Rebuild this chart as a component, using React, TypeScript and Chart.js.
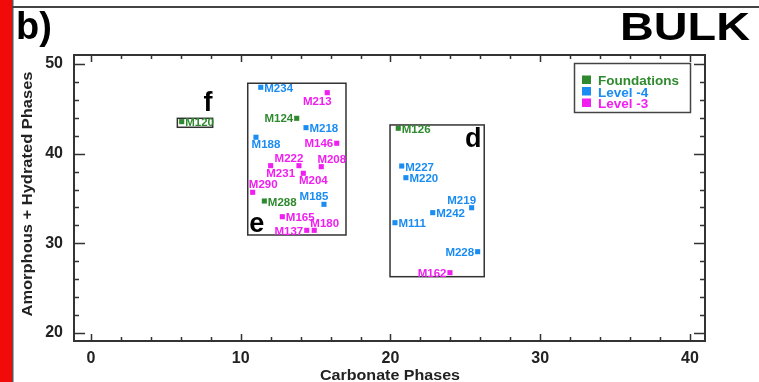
import React, { useEffect, useRef } from 'react';
import { Chart, registerables } from 'chart.js';

Chart.register(...registerables);

// ---------- data ----------
const seriesLabels = ['Foundations', 'Level -4', 'Level -3'];
const seriesColors = ['#2f8a2f', '#1a8cf2', '#f01ef0'];

const foundationNames = ['M120', 'M124', 'M288', 'M126'];
const foundationX = [6.06, 13.74, 11.58, 20.52];
const foundationY = [43.57, 43.94, 34.72, 42.83];

const level4Names = ['M234', 'M218', 'M188', 'M185', 'M227', 'M220', 'M219', 'M242', 'M111', 'M228'];
const level4X = [11.34, 14.36, 11.02, 15.56, 20.75, 21.03, 25.42, 22.82, 20.3, 25.82];
const level4Y = [47.4, 42.9, 41.83, 34.35, 38.62, 37.32, 33.97, 33.42, 32.3, 29.07];

const level3Names = ['M213', 'M146', 'M222', 'M231', 'M208', 'M204', 'M290', 'M165', 'M137', 'M180', 'M162'];
const level3X = [15.78, 16.41, 13.89, 12.0, 15.38, 14.18, 10.8, 12.78, 14.41, 14.91, 23.97];
const level3Y = [46.8, 41.16, 38.66, 38.66, 38.55, 37.81, 35.69, 32.97, 31.45, 31.45, 26.73];

const xTicks = [0, 10, 20, 30, 40];
const yTicks = [20, 30, 40, 50];

// group boxes (data coordinates)
const groupNames = ['e', 'd', 'f'];
const groupXMin = [10.47, 19.97, 5.77];
const groupXMax = [17.03, 26.26, 8.13];
const groupYMin = [30.93, 26.28, 42.94];
const groupYMax = [47.85, 43.2, 43.94];
const groupLetterX = [11.07, 25.53, 7.82];
const groupLetterY = [32.05, 41.52, 45.6];

// label placement around each marker (r, l, ur, ul, dr, dl)
const labelPlacement: Record<string, string> = {
  M120: 'r', M234: 'r', M218: 'r', M288: 'r', M165: 'r', M126: 'r', M227: 'r', M220: 'r', M242: 'r', M111: 'r',
  M124: 'l', M146: 'l', M137: 'l', M228: 'l', M162: 'l',
  M222: 'ul', M185: 'ul', M219: 'ul',
  M208: 'ur', M290: 'ur', M180: 'ur',
  M188: 'dr', M231: 'dr', M204: 'dr',
  M213: 'dl',
};

const seriesNames = [foundationNames, level4Names, level3Names];
const FONT = '"Liberation Sans", Arial, Helvetica, sans-serif';

function fitText(ctx: CanvasRenderingContext2D, text: string, cx: number, cy: number, width: number, rot: number) {
  const w = ctx.measureText(text).width;
  ctx.save();
  ctx.translate(cx, cy);
  ctx.rotate(rot);
  ctx.scale(width / w, 1);
  ctx.textAlign = 'center';
  ctx.textBaseline = 'middle';
  ctx.fillText(text, 0, 0);
  ctx.restore();
}

const decorPlugin = {
  id: 'decor',
  beforeDraw(chart: any) {
    const ctx = chart.ctx as CanvasRenderingContext2D;
    ctx.save();
    ctx.fillStyle = '#ffffff';
    ctx.fillRect(0, 0, chart.width, chart.height);
    ctx.fillStyle = '#f00a0a';
    ctx.fillRect(0, 0, 12, chart.height);
    ctx.fillStyle = '#555';
    ctx.fillRect(12, 0, 1.5, chart.height);
    ctx.fillStyle = '#444';
    ctx.fillRect(12, 6, chart.width - 12, 2);
    ctx.restore();
  },
  afterDatasetsDraw(chart: any) {
    const ctx = chart.ctx as CanvasRenderingContext2D;
    const xs = chart.scales.x;
    const ys = chart.scales.y;
    const a = chart.chartArea;
    ctx.save();

    // frame
    ctx.strokeStyle = '#333';
    ctx.lineWidth = 2;
    ctx.strokeRect(a.left, a.top, a.right - a.left, a.bottom - a.top);

    // ticks (inward)
    ctx.lineWidth = 1.5;
    ctx.beginPath();
    for (let v = xTicks[0]; v <= xTicks[xTicks.length - 1]; v += 2) {
      const px = Math.round(xs.getPixelForValue(v)) + 0.5;
      const len = v % 10 === 0 ? 7 : 4;
      ctx.moveTo(px, a.bottom);
      ctx.lineTo(px, a.bottom - len);
      ctx.moveTo(px, a.top);
      ctx.lineTo(px, a.top + len);
    }
    for (let v = yTicks[0]; v <= yTicks[yTicks.length - 1]; v += 2) {
      const py = Math.round(ys.getPixelForValue(v)) + 0.5;
      const len = v % 10 === 0 ? 11 : 5;
      ctx.moveTo(a.left, py);
      ctx.lineTo(a.left + len, py);
      ctx.moveTo(a.right, py);
      ctx.lineTo(a.right - len, py);
    }
    ctx.stroke();

    // group boxes
    ctx.strokeStyle = '#333';
    ctx.lineWidth = 1.5;
    for (let i = 0; i < groupNames.length; i++) {
      const x1 = xs.getPixelForValue(groupXMin[i]);
      const x2 = xs.getPixelForValue(groupXMax[i]);
      const y1 = ys.getPixelForValue(groupYMax[i]);
      const y2 = ys.getPixelForValue(groupYMin[i]);
      ctx.strokeRect(x1, y1, x2 - x1, y2 - y1);
      ctx.fillStyle = '#000';
      ctx.font = `700 27px ${FONT}`;
      ctx.textAlign = 'center';
      ctx.textBaseline = 'middle';
      ctx.fillText(groupNames[i], xs.getPixelForValue(groupLetterX[i]), ys.getPixelForValue(groupLetterY[i]));
    }

    // point labels
    ctx.font = `700 11.5px ${FONT}`;
    ctx.textBaseline = 'middle';
    chart.data.datasets.forEach((ds: any, i: number) => {
      const meta = chart.getDatasetMeta(i);
      ctx.fillStyle = seriesColors[i];
      meta.data.forEach((pt: any, j: number) => {
        const name = seriesNames[i][j];
        const p = labelPlacement[name] || 'r';
        let tx = pt.x, ty = pt.y;
        let align: CanvasTextAlign = 'center';
        if (p === 'r') { align = 'left'; tx += 3.5; ty += 1.5; }
        else if (p === 'l') { align = 'right'; tx -= 3.5; ty += 1; }
        else if (p === 'ur') { tx += 10.5; ty -= 7; }
        else if (p === 'ul') { tx -= 10; ty -= 7; }
        else if (p === 'dr') { tx += 10; ty += 8; }
        else if (p === 'dl') { tx -= 10; ty += 9; }
        ctx.textAlign = align;
        ctx.fillText(name, tx, ty);
      });
    });

    // legend
    ctx.strokeStyle = '#444';
    ctx.lineWidth = 1.5;
    ctx.strokeRect(574.5, 63.5, 116, 49);
    ctx.font = `700 13.5px ${FONT}`;
    ctx.textAlign = 'left';
    ctx.textBaseline = 'alphabetic';
    seriesLabels.forEach((lab, i) => {
      const base = 85 + i * 11.5;
      ctx.fillStyle = seriesColors[i];
      ctx.fillRect(582, base - 9.5, 9, 8.5);
      ctx.fillText(lab, 598, base);
    });

    // titles
    ctx.fillStyle = '#000';
    ctx.font = `700 38px ${FONT}`;
    ctx.textAlign = 'left';
    ctx.textBaseline = 'alphabetic';
    ctx.fillText('b)', 16, 39);
    ctx.font = `700 38px ${FONT}`;
    fitText(ctx, 'BULK', 685, 30, 130, 0);

    // axis titles
    ctx.fillStyle = '#222';
    ctx.font = `700 14px ${FONT}`;
    fitText(ctx, 'Carbonate Phases', 390, 376, 140, 0);
    fitText(ctx, 'Amorphous + Hydrated Phases', 28, 194, 245, -Math.PI / 2);

    ctx.restore();
  },
};

export default function App() {
  const ref = useRef<HTMLCanvasElement | null>(null);
  useEffect(() => {
    if (!ref.current) return;
    const mk = (xv: number[], yv: number[]) => xv.map((x, i) => ({ x, y: yv[i] }));
    const chart = new Chart(ref.current, {
      type: 'scatter',
      data: {
        datasets: [
          { label: seriesLabels[0], data: mk(foundationX, foundationY), backgroundColor: seriesColors[0], borderColor: seriesColors[0] },
          { label: seriesLabels[1], data: mk(level4X, level4Y), backgroundColor: seriesColors[1], borderColor: seriesColors[1] },
          { label: seriesLabels[2], data: mk(level3X, level3Y), backgroundColor: seriesColors[2], borderColor: seriesColors[2] },
        ],
      },
      options: {
        animation: false,
        responsive: false,
        devicePixelRatio: 1,
        layout: { padding: { top: 55, right: 54, left: 0, bottom: 0 } },
        elements: { point: { pointStyle: 'rect', radius: 3.6, borderWidth: 0, hoverRadius: 3.6 } },
        plugins: { legend: { display: false }, tooltip: { enabled: false }, title: { display: false } },
        scales: {
          x: {
            type: 'linear',
            min: -1.13,
            max: 41.0,
            afterBuildTicks: (s: any) => { s.ticks = xTicks.map((v) => ({ value: v })); },
            afterFit: (s: any) => { s.height = 41; },
            grid: { display: false, drawTicks: false },
            border: { display: false },
            ticks: { padding: 8, color: '#222', font: { family: FONT, size: 16, weight: 'bold' }, maxRotation: 0, autoSkip: false },
          },
          y: {
            type: 'linear',
            min: 19.11,
            max: 51.0,
            afterBuildTicks: (s: any) => { s.ticks = yTicks.map((v) => ({ value: v })); },
            afterFit: (s: any) => { s.width = 74; },
            grid: { display: false, drawTicks: false },
            border: { display: false },
            ticks: { padding: 11, color: '#222', font: { family: FONT, size: 16, weight: 'bold' }, autoSkip: false },
          },
        },
      },
      plugins: [decorPlugin],
    });
    return () => chart.destroy();
  }, []);
  return (
    <div style={{ position: 'fixed', left: 0, top: 0, width: 759, height: 382 }}>
      <canvas ref={ref} width={759} height={382} style={{ width: 759, height: 382, display: 'block' }} />
    </div>
  );
}
